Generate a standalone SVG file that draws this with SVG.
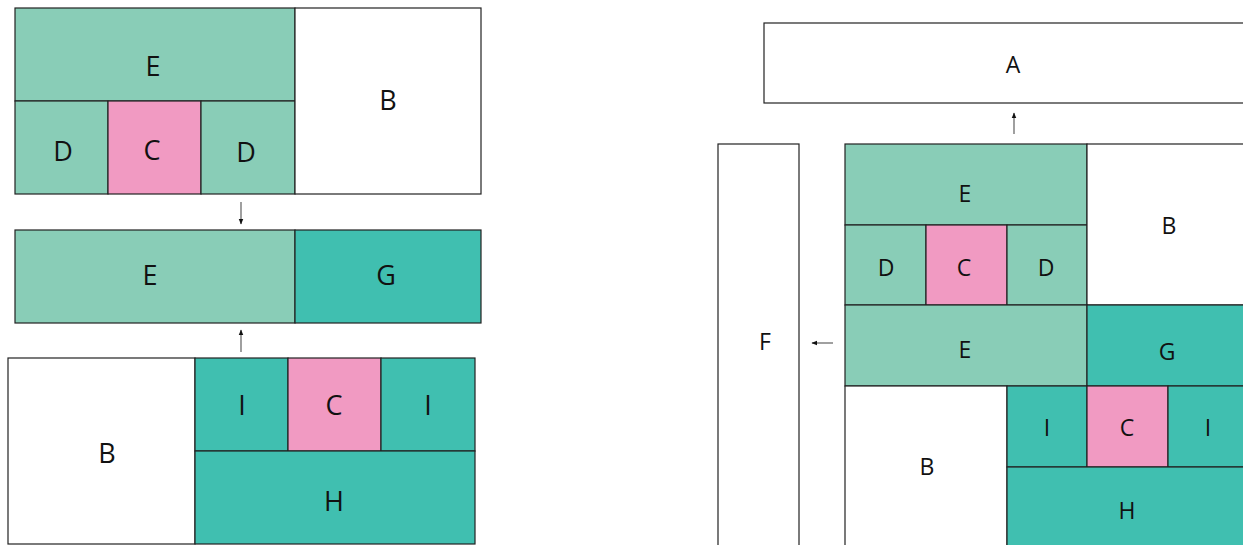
<svg xmlns="http://www.w3.org/2000/svg" width="1243" height="545" viewBox="0 0 1243 545">
<defs>
<style>
.w{fill:#ffffff;stroke:#222;stroke-width:1.2}
.e{fill:#89cdb7;stroke:#222;stroke-width:1.2}
.t{fill:#40bfb0;stroke:#222;stroke-width:1.2}
.p{fill:#f19ac2;stroke:#222;stroke-width:1.2}
text{font-family:"Open Sans","Noto Sans",sans-serif;fill:#111;text-anchor:middle;dominant-baseline:central}
.L{font-size:27px}
.R{font-size:23px}
.c{stroke:#777;stroke-width:1.4;fill:none;marker-end:url(#ah)}
</style>
<marker id="ah" viewBox="0 0 10 10" refX="9" refY="5" markerWidth="6" markerHeight="6" orient="auto" markerUnits="userSpaceOnUse">
<path d="M0,1 L10,5 L0,9 z" fill="#111"/>
</marker>
</defs>
<rect width="1243" height="545" fill="#fff"/>
<g id="connectors">
<line class="c" x1="241" y1="202" x2="241" y2="224"/>
<line class="c" x1="241" y1="352" x2="241" y2="330"/>
<line class="c" x1="1014" y1="134" x2="1014" y2="113"/>
<line class="c" x1="833" y1="343" x2="812" y2="343"/>
</g>
<g id="top-left">
<g id="tl-E"><rect class="e" x="15" y="8" width="280" height="93"/><text class="L" x="153" y="65">E</text></g>
<g id="tl-D1"><rect class="e" x="15" y="101" width="93" height="93"/><text class="L" x="63" y="150">D</text></g>
<g id="tl-C"><rect class="p" x="108" y="101" width="93" height="93"/><text class="L" x="152" y="149">C</text></g>
<g id="tl-D2"><rect class="e" x="201" y="101" width="94" height="93"/><text class="L" x="246" y="151">D</text></g>
<g id="tl-B"><rect class="w" x="295" y="8" width="186" height="186"/><text class="L" x="388" y="99">B</text></g>
</g>
<g id="mid-left">
<g id="ml-E"><rect class="e" x="15" y="230" width="280" height="93"/><text class="L" x="150" y="274">E</text></g>
<g id="ml-G"><rect class="t" x="295" y="230" width="186" height="93"/><text class="L" x="386" y="274">G</text></g>
</g>
<g id="bottom-left">
<g id="bl-B"><rect class="w" x="8" y="358" width="187" height="186"/><text class="L" x="107" y="452">B</text></g>
<g id="bl-I1"><rect class="t" x="195" y="358" width="93" height="93"/><text class="L" x="242" y="404">I</text></g>
<g id="bl-C"><rect class="p" x="288" y="358" width="93" height="93"/><text class="L" x="334" y="404">C</text></g>
<g id="bl-I2"><rect class="t" x="381" y="358" width="94" height="93"/><text class="L" x="428" y="404">I</text></g>
<g id="bl-H"><rect class="t" x="195" y="451" width="280" height="93"/><text class="L" x="334" y="500">H</text></g>
</g>
<g id="right">
<g id="r-A"><rect class="w" x="764" y="23" width="498" height="80"/><text class="R" x="1013" y="64">A</text></g>
<g id="r-F"><rect class="w" x="718" y="144" width="81" height="420"/><text class="R" x="765" y="341">F</text></g>
<g id="r-E1"><rect class="e" x="845" y="144" width="242" height="81"/><text class="R" x="965" y="193">E</text></g>
<g id="r-D1"><rect class="e" x="845" y="225" width="81" height="80"/><text class="R" x="886" y="267">D</text></g>
<g id="r-C1"><rect class="p" x="926" y="225" width="81" height="80"/><text class="R" x="964" y="267">C</text></g>
<g id="r-D2"><rect class="e" x="1007" y="225" width="80" height="80"/><text class="R" x="1046" y="267">D</text></g>
<g id="r-B1"><rect class="w" x="1087" y="144" width="164" height="161"/><text class="R" x="1169" y="225">B</text></g>
<g id="r-E2"><rect class="e" x="845" y="305" width="242" height="81"/><text class="R" x="965" y="349">E</text></g>
<g id="r-G"><rect class="t" x="1087" y="305" width="164" height="81"/><text class="R" x="1167" y="351">G</text></g>
<g id="r-B2"><rect class="w" x="845" y="386" width="162" height="180"/><text class="R" x="927" y="466">B</text></g>
<g id="r-I1"><rect class="t" x="1007" y="386" width="80" height="81"/><text class="R" x="1047" y="427">I</text></g>
<g id="r-C2"><rect class="p" x="1087" y="386" width="81" height="81"/><text class="R" x="1127" y="427">C</text></g>
<g id="r-I2"><rect class="t" x="1168" y="386" width="82" height="81"/><text class="R" x="1208" y="427">I</text></g>
<g id="r-H"><rect class="t" x="1007" y="467" width="243" height="81"/><text class="R" x="1127" y="510">H</text></g>
</g>
</svg>
